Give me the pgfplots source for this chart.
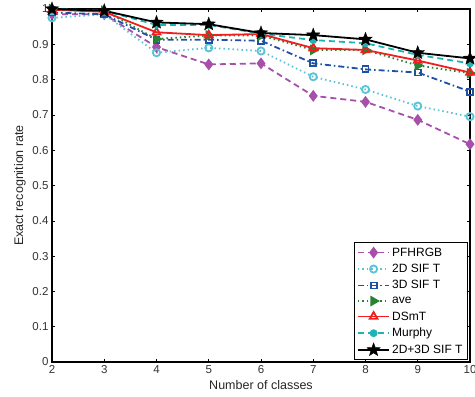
\documentclass[border=0pt]{standalone}
\usepackage{fontspec}
\setmainfont{Liberation Sans}
\usepackage{pgfplots}
\pgfplotsset{compat=1.18}
\definecolor{cpurp}{RGB}{166,80,170}
\definecolor{ccyan}{RGB}{90,195,215}
\definecolor{cblue}{RGB}{30,80,165}
\definecolor{cgreen}{RGB}{40,130,50}
\definecolor{cred}{RGB}{240,30,30}
\definecolor{cteal}{RGB}{30,180,180}
\pgfdeclareplotmark{fstar}{%
  \pgfpathmoveto{\pgfpointpolar{90}{\pgfplotmarksize}}%
  \pgfpathlineto{\pgfpointpolar{126}{0.42\pgfplotmarksize}}%
  \pgfpathlineto{\pgfpointpolar{162}{\pgfplotmarksize}}%
  \pgfpathlineto{\pgfpointpolar{198}{0.42\pgfplotmarksize}}%
  \pgfpathlineto{\pgfpointpolar{234}{\pgfplotmarksize}}%
  \pgfpathlineto{\pgfpointpolar{270}{0.42\pgfplotmarksize}}%
  \pgfpathlineto{\pgfpointpolar{306}{\pgfplotmarksize}}%
  \pgfpathlineto{\pgfpointpolar{342}{0.42\pgfplotmarksize}}%
  \pgfpathlineto{\pgfpointpolar{18}{\pgfplotmarksize}}%
  \pgfpathlineto{\pgfpointpolar{54}{0.42\pgfplotmarksize}}%
  \pgfpathclose
  \pgfusepathqfillstroke}
\begin{document}
\begin{tikzpicture}
\begin{axis}[
  name=ax,
  scale only axis, width=418pt, height=353pt,
  xmin=2, xmax=10, ymin=0, ymax=1,
  xtick={2,...,10}, ytick={0,0.1,...,1},
  yticklabels={0,0.1,0.2,0.3,0.4,0.5,0.6,0.7,0.8,0.9,1},
  tick align=inside, major tick length=3pt,
  axis line style={line width=2.5pt},
  tick style={black, line width=0.6pt},
  /pgf/number format/assume math mode=true,
  ticklabel style={font=\fontsize{11.5}{13}\selectfont, text=black!80},
  label style={font=\fontsize{12.5}{14}\selectfont, text=black!85},
  xlabel={Number of classes}, ylabel={Exact recognition rate},
  xlabel style={at={(axis description cs:0.5,-0.064)}, anchor=center},
  ylabel style={at={(axis description cs:-0.077,0.5)}, anchor=center},
  legend style={at={(0.995,0.005)}, anchor=south east, draw=black, line width=0.8pt,
    font=\fontsize{12}{14}\selectfont, row sep=2.6pt, inner sep=3pt},
  legend image code/.code={\draw[mark repeat=2,mark phase=2,#1] plot coordinates {(0cm,0cm) (0.55cm,0cm) (1.1cm,0cm)};},
  legend image post style={sharp plot},
  legend cell align=left,
  every axis plot/.append style={line width=1.8pt},
]
\addplot[cpurp, dash pattern=on 6pt off 4pt, mark=diamond*, mark size=4.5pt, mark options={solid}] coordinates {
(2,0.985) (3,0.985) (4,0.892) (5,0.843) (6,0.846) (7,0.754) (8,0.737) (9,0.686) (10,0.617)};
\addplot[ccyan, dash pattern=on 1.5pt off 3pt, mark=o, mark size=3.6pt, mark options={solid, line width=1.8pt}] coordinates {
(2,0.975) (3,0.985) (4,0.876) (5,0.890) (6,0.881) (7,0.808) (8,0.772) (9,0.725) (10,0.695)};
\addplot[cblue, dash pattern=on 6pt off 3pt on 1.5pt off 3pt, mark=square, mark size=3pt, mark options={solid, line width=1.8pt}] coordinates {
(2,0.99) (3,0.985) (4,0.913) (5,0.913) (6,0.910) (7,0.846) (8,0.829) (9,0.820) (10,0.766)};
\addplot[cgreen, dash pattern=on 1.5pt off 3pt, mark=triangle*, mark size=4.5pt, mark options={solid, rotate=-90}] coordinates {
(2,1.0) (3,0.995) (4,0.915) (5,0.925) (6,0.925) (7,0.884) (8,0.884) (9,0.840) (10,0.818)};
\addplot[cred, solid, mark=triangle, mark size=4.5pt, mark options={solid, line width=1.8pt}] coordinates {
(2,0.998) (3,0.992) (4,0.934) (5,0.926) (6,0.929) (7,0.889) (8,0.884) (9,0.854) (10,0.820)};
\addplot[cteal, dash pattern=on 6pt off 4pt, mark=*, mark size=3pt, mark options={solid}] coordinates {
(2,1.0) (3,0.995) (4,0.955) (5,0.955) (6,0.930) (7,0.912) (8,0.903) (9,0.870) (10,0.846)};
\addplot[black, solid, mark=fstar, mark size=7pt, mark options={solid, line width=0.4pt, fill=black}] coordinates {
(2,1.0) (3,0.995) (4,0.962) (5,0.957) (6,0.932) (7,0.926) (8,0.914) (9,0.876) (10,0.860)};
\legend{PFHRGB, 2D SIF T, 3D SIF T, ave, DSmT, Murphy, 2D+3D SIF T}
\end{axis}
\pgfresetboundingbox
\path[use as bounding box] ([xshift=-52pt,yshift=-34pt]ax.south west) rectangle ([xshift=5pt,yshift=9pt]ax.north east);
\end{tikzpicture}
\end{document}
